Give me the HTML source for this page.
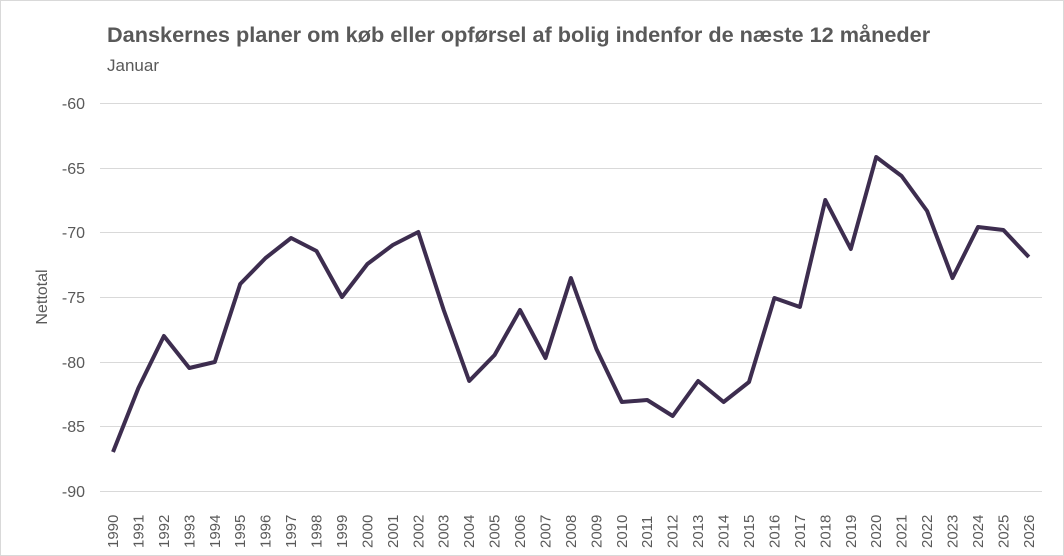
<!DOCTYPE html>
<html><head><meta charset="utf-8"><style>
body{margin:0;background:#fff}
svg{display:block;font-family:"Liberation Sans",sans-serif}
</style></head><body>
<svg width="1064" height="556" viewBox="0 0 1064 556">
<rect x="0.5" y="0.5" width="1063" height="555" fill="#fff" stroke="#d9d9d9"/>
<text x="107" y="42" font-size="21.7" font-weight="bold" fill="#595959">Danskernes planer om køb eller opførsel af bolig indenfor de næste 12 måneder</text>
<text x="107" y="71" font-size="17" fill="#595959">Januar</text>
<g stroke="#d9d9d9" stroke-width="1">
<line x1="100" x2="1042" y1="103.5" y2="103.5"/>
<line x1="100" x2="1042" y1="168.5" y2="168.5"/>
<line x1="100" x2="1042" y1="232.5" y2="232.5"/>
<line x1="100" x2="1042" y1="297.5" y2="297.5"/>
<line x1="100" x2="1042" y1="362.5" y2="362.5"/>
<line x1="100" x2="1042" y1="426.5" y2="426.5"/>
<line x1="100" x2="1042" y1="491.5" y2="491.5"/>
</g>
<g font-size="16" fill="#595959" text-anchor="end">
<text x="85" y="109">-60</text><text x="85" y="174">-65</text><text x="85" y="238">-70</text>
<text x="85" y="303">-75</text><text x="85" y="368">-80</text><text x="85" y="432">-85</text><text x="85" y="497">-90</text>
</g>
<text transform="translate(47,297) rotate(-90)" font-size="16" fill="#595959" text-anchor="middle">Nettotal</text>
<polyline fill="none" stroke="#3d2d4f" stroke-width="4" stroke-linejoin="round" points="113,452 138.4,388 163.9,336 189.3,368 214.8,362 240.2,284 265.6,258 291.1,238 316.5,251 342,297 367.4,264 392.8,245 418.3,232 443.7,310 469.2,381 494.6,355 520,310 545.5,358 570.9,278 596.4,349 621.8,402 647.2,400 672.7,416 698.1,381 723.6,402 749,382 774.4,298 799.9,307 825.3,200 850.8,249 876.2,157 901.6,176 927.1,211 952.5,278 978,227 1003.4,230 1028.8,257"/>
<g font-size="15" fill="#595959">
<text transform="translate(118,548) rotate(-90)">1990</text>
<text transform="translate(143.4,548) rotate(-90)">1991</text>
<text transform="translate(168.9,548) rotate(-90)">1992</text>
<text transform="translate(194.3,548) rotate(-90)">1993</text>
<text transform="translate(219.8,548) rotate(-90)">1994</text>
<text transform="translate(245.2,548) rotate(-90)">1995</text>
<text transform="translate(270.6,548) rotate(-90)">1996</text>
<text transform="translate(296.1,548) rotate(-90)">1997</text>
<text transform="translate(321.5,548) rotate(-90)">1998</text>
<text transform="translate(347,548) rotate(-90)">1999</text>
<text transform="translate(372.4,548) rotate(-90)">2000</text>
<text transform="translate(397.8,548) rotate(-90)">2001</text>
<text transform="translate(423.3,548) rotate(-90)">2002</text>
<text transform="translate(448.7,548) rotate(-90)">2003</text>
<text transform="translate(474.2,548) rotate(-90)">2004</text>
<text transform="translate(499.6,548) rotate(-90)">2005</text>
<text transform="translate(525,548) rotate(-90)">2006</text>
<text transform="translate(550.5,548) rotate(-90)">2007</text>
<text transform="translate(575.9,548) rotate(-90)">2008</text>
<text transform="translate(601.4,548) rotate(-90)">2009</text>
<text transform="translate(626.8,548) rotate(-90)">2010</text>
<text transform="translate(652.2,548) rotate(-90)">2011</text>
<text transform="translate(677.7,548) rotate(-90)">2012</text>
<text transform="translate(703.1,548) rotate(-90)">2013</text>
<text transform="translate(728.6,548) rotate(-90)">2014</text>
<text transform="translate(754,548) rotate(-90)">2015</text>
<text transform="translate(779.4,548) rotate(-90)">2016</text>
<text transform="translate(804.9,548) rotate(-90)">2017</text>
<text transform="translate(830.3,548) rotate(-90)">2018</text>
<text transform="translate(855.8,548) rotate(-90)">2019</text>
<text transform="translate(881.2,548) rotate(-90)">2020</text>
<text transform="translate(906.6,548) rotate(-90)">2021</text>
<text transform="translate(932.1,548) rotate(-90)">2022</text>
<text transform="translate(957.5,548) rotate(-90)">2023</text>
<text transform="translate(983,548) rotate(-90)">2024</text>
<text transform="translate(1008.4,548) rotate(-90)">2025</text>
<text transform="translate(1033.8,548) rotate(-90)">2026</text>
</g>
</svg>
</body></html>
